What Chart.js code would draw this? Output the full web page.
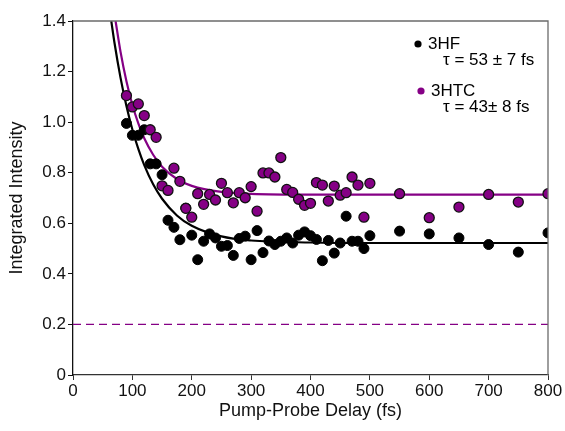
<!doctype html>
<html>
<head>
<title>Integrated Intensity vs Pump-Probe Delay</title>
<script src="https://cdn.jsdelivr.net/npm/chart.js@4/dist/chart.umd.min.js"></script>
<style>
body { margin: 0; background: #fff; }
#holder { width: 565px; height: 431px; }
</style>
</head>
<body>
<div id="holder"><canvas id="chart"></canvas></div>
<script>
// delay times (fs) of the measured points
var delays = [90,100,110,120,130,140,150,160,170,180,190,200,210,220,230,240,250,260,270,280,
    290,300,310,320,330,340,350,360,370,380,390,400,410,420,430,440,450,460,470,480,490,500,
    550,600,650,700,750,800];

// 3HF (black)
var hf = [0.995,0.948,0.948,0.97,0.835,0.835,0.792,0.612,0.584,0.535,0.66,0.553,0.456,0.529,0.558,0.542,0.509,0.512,0.473,0.54,
    0.549,0.456,0.571,0.484,0.53,0.516,0.529,0.542,0.522,0.553,0.566,0.551,0.536,0.452,0.532,0.482,0.522,0.628,0.529,0.529,0.5,0.551,
    0.569,0.558,0.542,0.516,0.486,0.562];

// 3HTC (purple)
var htc = [1.105,1.06,1.072,1.026,0.97,0.94,0.748,0.73,0.818,0.766,0.659,0.624,0.717,0.675,0.714,0.692,0.758,0.721,0.681,0.721,
    0.701,0.745,0.648,0.799,0.799,0.783,0.86,0.734,0.722,0.695,0.671,0.679,0.761,0.751,0.688,0.747,0.711,0.721,0.783,0.751,0.624,0.758,
    0.717,0.622,0.664,0.714,0.684,0.717];

// fitted curves
var fitHfT = [64.5,70,80,90,100,110,120,135,150,175,200,250,300,400,500,800];
var fitHfY = [1.40,1.312,1.176,1.064,0.971,0.894,0.830,0.754,0.697,0.631,0.590,0.548,0.532,0.524,0.522,0.522];
var fitHtcT = [71.7,80,90,100,110,120,135,150,175,200,250,300,400,800];
var fitHtcY = [1.40,1.279,1.162,1.069,0.995,0.936,0.871,0.824,0.775,0.748,0.724,0.716,0.713,0.713];

var baseT = [0, 800];
var baseY = [0.2, 0.2];

var yTicks = [0,0.2,0.4,0.6,0.8,1.0,1.2,1.4];

var PURPLE = '#850085';
var FONT = '"Liberation Sans", Arial, Helvetica, sans-serif';

function pts(xs, ys) {
    return xs.map(function (x, i) { return {x: x, y: ys[i]}; });
}

// frame on top/right + legend text
var extras = {
    id: 'extras',
    afterDraw: function (chart) {
        var ctx = chart.ctx, a = chart.chartArea;
        ctx.save();
        ctx.strokeStyle = '#6b6b6b';
        ctx.lineWidth = 1.3;
        ctx.beginPath();
        ctx.moveTo(a.left, a.top);
        ctx.lineTo(a.right, a.top);
        ctx.lineTo(a.right, a.bottom);
        ctx.stroke();

        ctx.font = '17px ' + FONT;
        ctx.textBaseline = 'middle';
        ctx.fillStyle = '#000';
        ctx.beginPath(); ctx.arc(418, 44, 3.6, 0, Math.PI * 2); ctx.fill();
        ctx.fillText('3HF', 428, 44);
        ctx.fillText('\u03c4 = 53 \u00b1 7 fs', 443, 60);
        ctx.fillStyle = PURPLE;
        ctx.beginPath(); ctx.arc(421, 91, 3.6, 0, Math.PI * 2); ctx.fill();
        ctx.fillStyle = '#000';
        ctx.fillText('3HTC', 431, 91);
        ctx.fillText('\u03c4 = 43\u00b1 8 fs', 443, 107);
        ctx.restore();
    }
};

var config = {
    type: 'scatter',
    data: {
        datasets: [{
            label: '3HTC',
            data: pts(delays, htc),
            backgroundColor: PURPLE,
            borderColor: '#111',
            borderWidth: 1.3,
            pointRadius: 5,
            order: 0
        }, {
            label: '3HF',
            data: pts(delays, hf),
            backgroundColor: '#000',
            borderColor: '#000',
            borderWidth: 1,
            pointRadius: 5,
            order: 1
        }, {
            label: 'fit 3HTC',
            data: pts(fitHtcT, fitHtcY),
            showLine: true,
            borderColor: PURPLE,
            borderWidth: 2.2,
            pointRadius: 0,
            cubicInterpolationMode: 'monotone',
            order: 2
        }, {
            label: 'fit 3HF',
            data: pts(fitHfT, fitHfY),
            showLine: true,
            borderColor: '#000',
            borderWidth: 2.2,
            pointRadius: 0,
            cubicInterpolationMode: 'monotone',
            order: 3
        }, {
            label: 'baseline',
            data: pts(baseT, baseY),
            showLine: true,
            borderColor: PURPLE,
            borderWidth: 1.3,
            borderDash: [8, 5],
            pointRadius: 0,
            order: 4
        }]
    },
    options: {
        responsive: true,
        maintainAspectRatio: false,
        animation: false,
        layout: { padding: { top: 21, right: 17, left: 0, bottom: 0 } },
        plugins: { legend: { display: false }, tooltip: { enabled: false } },
        scales: {
            x: {
                type: 'linear',
                min: 0, max: 800,
                border: { display: true, color: '#333', width: 1.3 },
                grid: { drawOnChartArea: false, drawTicks: true, tickLength: 5, color: '#333' },
                ticks: { stepSize: 100, padding: 1, color: '#111', font: { family: FONT, size: 17 }, maxRotation: 0 },
                title: { display: true, text: 'Pump-Probe Delay (fs)', color: '#111',
                    font: { family: FONT, size: 18 }, padding: { top: 0, bottom: 9 } },
                afterFit: function (s) { s.height = 56; }
            },
            y: {
                type: 'linear',
                min: 0, max: 1.4,
                border: { display: true, color: '#111', width: 1.3 },
                grid: { drawOnChartArea: false, drawTicks: true, tickLength: 5, color: '#111' },
                afterBuildTicks: function (s) { s.ticks = yTicks.map(function (v) { return {value: v}; }); },
                ticks: { padding: 2, color: '#111', font: { family: FONT, size: 17 },
                    callback: function (v) { return v === 0 ? '0' : v.toFixed(1); } },
                title: { display: true, text: 'Integrated Intensity', color: '#111',
                    font: { family: FONT, size: 18 }, padding: { top: 6, bottom: 0 } },
                afterFit: function (s) { s.width = 73; }
            }
        }
    },
    plugins: [extras]
};

window.onload = function () {
    var ctx = document.getElementById('chart').getContext('2d');
    window.myChart = new Chart(ctx, config);
};
</script>
</body>
</html>
